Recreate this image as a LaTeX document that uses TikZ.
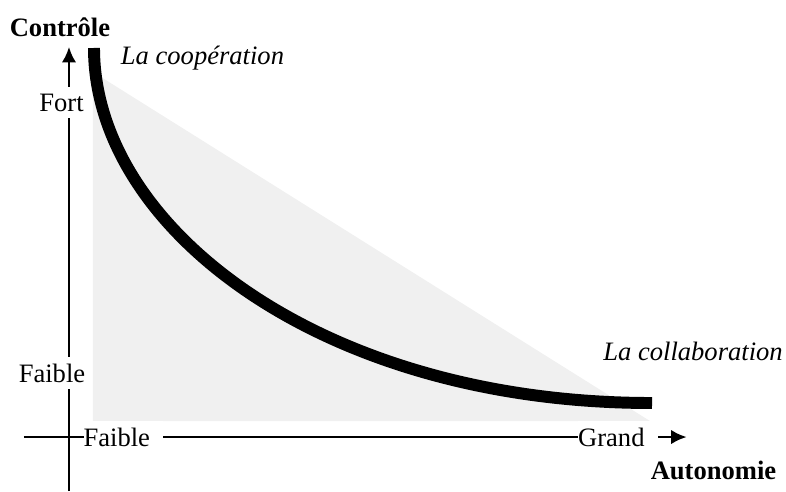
\documentclass[tikz,border=0pt,12pt]{standalone}
\usepackage{xcolor}
\usepackage{fontspec}
\setmainfont{Liberation Serif}
\usetikzlibrary{arrows.meta}
\definecolor{zone}{RGB}{240,240,240}
\tikzstyle{axis}=[-{Latex[length=7pt,width=6.5pt]}, line width=1.2pt]
\tikzset{tick/.style={fill=white, inner xsep=0pt, inner ysep=3pt}}
\tikzset{vtick/.style={fill=white, inner sep=3pt}}
\tikzstyle{courbe}=[line width=5.4pt]

\begin{document}
\begin{tikzpicture}
  \useasboundingbox (0,0) rectangle (12.476,7.794);
  %% Zone
  \fill[zone] (1.476,6.651) -- (1.476,1.111) -- (10.317,1.111) -- cycle;

  %% Axes
  \coordinate (Ybas) at (1.095,0);
  \coordinate (Yhaut) at (1.095,7.05);
  \coordinate (Xgauche) at (0.38,0.857);
  \coordinate (Xdroite) at (10.90,0.857);
  \draw[axis] (Ybas) -- (Yhaut);
  \draw[axis] (Xgauche) -- (Xdroite);

  \draw (0.976,6.16) node[vtick] (Fort) {Fort};
  \draw (0.825,1.873) node[vtick] (Cfaible) {Faible};
  \draw (1.32,0.857) node[tick,anchor=west] (Afaible) {Faible\enspace};
  \draw (9.17,0.857) node[tick,anchor=west] (Grand) {Grand\enspace};

  %% Courbe
  \coordinate (C0) at (1.492,7.032);
  \coordinate (C1) at (10.349,1.397);
  \draw[courbe] (C0) .. controls (1.492,4.175) and (5.111,1.397) .. (C1);

  %% Legendes
  \draw (0.952,7.365) node (Controle) {\textbf{Contrôle}};
  \draw (11.325,0.333) node (Autonomie) {\textbf{Autonomie}};
  \draw (3.214,6.873) node (Coop) {\textit{La coopération}};
  \draw (11.0,2.222) node (Collab) {\textit{La collaboration}};
\end{tikzpicture}
\end{document}
